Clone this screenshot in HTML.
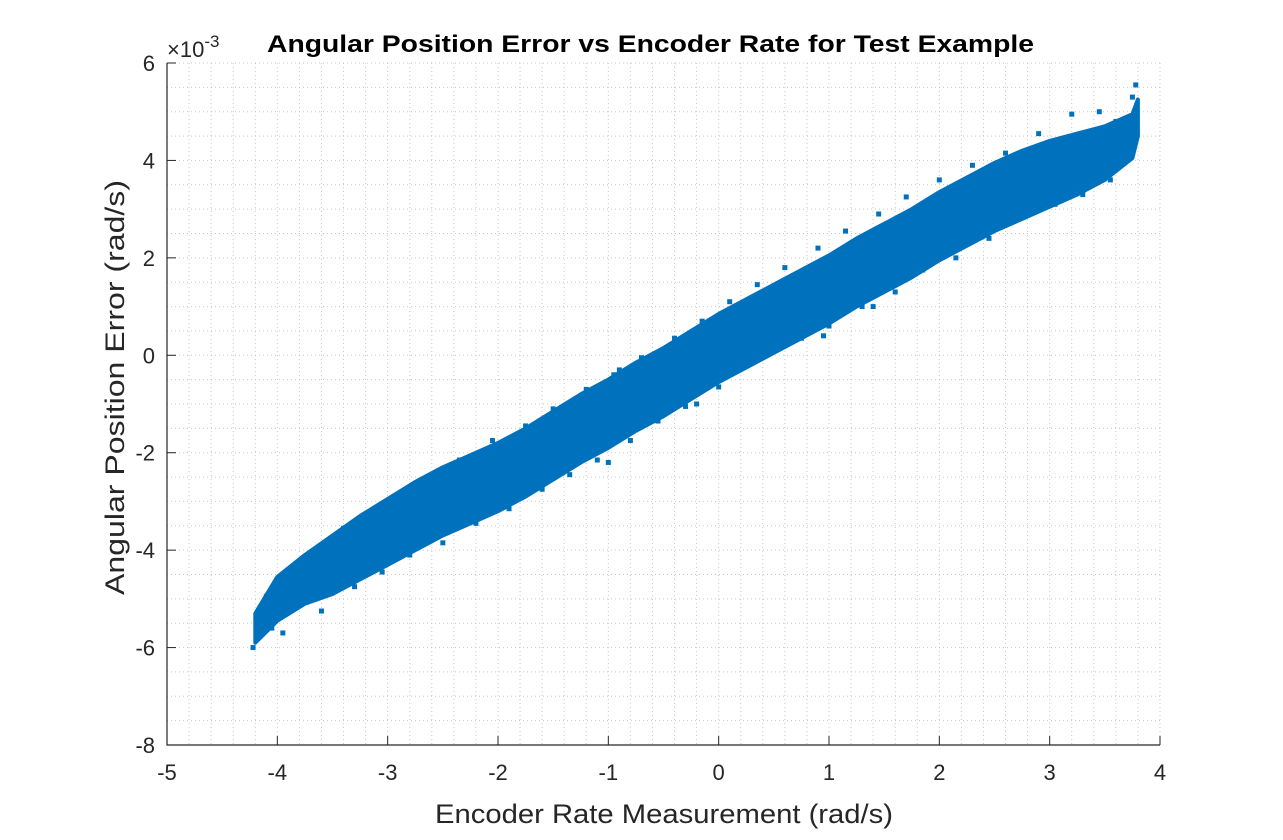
<!DOCTYPE html>
<html><head><meta charset="utf-8">
<style>
body{margin:0;background:#fff;}
svg{display:block;font-family:"Liberation Sans",Arial,sans-serif;}
</style></head>
<body>
<svg id="chart" width="1283" height="840">
<rect width="1283" height="840" fill="#fff"/>
<g id="grid"></g>
<g id="marks"></g>
<g id="axes"></g>
<text x="267" y="52" textLength="767" lengthAdjust="spacingAndGlyphs" font-size="24" font-weight="bold" fill="#000">Angular Position Error vs Encoder Rate for Test Example</text>
<text x="435" y="823" textLength="458" lengthAdjust="spacingAndGlyphs" font-size="27" fill="#262626">Encoder Rate Measurement (rad/s)</text>
<text transform="translate(124,595) rotate(-90)" textLength="415" lengthAdjust="spacingAndGlyphs" font-size="27" fill="#262626">Angular Position Error (rad/s)</text>
<text x="167" y="57" font-size="22" fill="#262626">×10<tspan dy="-10" font-size="17">-3</tspan></text>
</svg>
<script>
const xTicks = [-5,-4,-3,-2,-1,0,1,2,3,4];
const yTicks = [-8,-6,-4,-2,0,2,4,6];
const bandX = [-4.2,-4.0,-3.75,-3.5,-3.25,-3,-2.75,-2.5,-2.25,-2,-1.75,-1.5,-1.25,-1,-0.75,-0.5,-0.25,0,0.25,0.5,0.75,1,1.25,1.5,1.75,2,2.25,2.5,2.75,3,3.25,3.5,3.75,3.8];
const bandLower = [-5.9,-5.45,-5.1,-4.9,-4.6,-4.3,-4.0,-3.7,-3.45,-3.2,-2.9,-2.55,-2.2,-1.9,-1.55,-1.25,-0.9,-0.55,-0.25,0.05,0.35,0.65,1.0,1.3,1.6,1.95,2.25,2.55,2.8,3.05,3.3,3.6,4.05,4.5];
const bandUpper = [-5.3,-4.55,-4.1,-3.7,-3.3,-2.95,-2.6,-2.3,-2.05,-1.8,-1.5,-1.15,-0.8,-0.5,-0.15,0.15,0.5,0.85,1.15,1.45,1.75,2.05,2.4,2.7,3.0,3.35,3.65,3.95,4.2,4.4,4.55,4.7,4.95,5.25];
const ptX = [-4.22,-4.1,-3.95,-3.85,-3.6,-3.55,-3.4,-3.3,-3.1,-3.05,-2.9,-2.8,-2.6,-2.5,-2.35,-2.2,-2.05,-1.9,-1.75,-1.6,-1.5,-1.35,-1.2,-1.1,-0.95,-0.8,-0.7,-0.55,-0.4,-0.3,-0.15,0,0.1,0.2,0.35,0.5,0.6,0.75,0.9,1.0,1.15,1.3,1.45,1.6,1.7,1.85,2.0,2.15,2.3,2.45,2.6,2.75,2.9,3.05,3.2,3.3,3.45,3.55,3.65,3.78,3.3,2.8,2.2,1.4,0.6,-0.2,-1.0,-1.8,-2.6,-3.2,-3.7,-4.05,3.6,3.75,-0.9,0.95,-2.3,1.9,-3.5,2.5];
const ptY = [-6.0,-4.95,-5.7,-4.55,-5.25,-4.0,-3.55,-4.75,-3.25,-4.45,-2.85,-4.1,-2.55,-3.85,-2.15,-3.45,-1.75,-3.15,-1.45,-2.75,-1.1,-2.45,-0.7,-2.15,-0.4,-1.75,-0.05,-1.35,0.35,-1.05,0.7,-0.65,1.1,-0.25,1.45,0.1,1.8,0.35,2.2,0.6,2.55,1.0,2.9,1.3,3.25,1.75,3.6,2.0,3.9,2.4,4.15,2.85,4.55,3.1,4.95,3.3,5.0,3.6,4.1,5.55,4.0,3.1,2.3,1.0,1.0,-1.0,-2.2,-2.5,-3.75,-3.5,-5.0,-5.6,4.8,5.3,-0.3,0.4,-2.2,2.0,-4.3,3.7];

const X0=167, X1=1160, Y0=745, Y1=63;
const xs = v => X0 + (v - (-5)) / 9 * (X1 - X0);
const ys = v => Y0 - (v - (-8)) / 14 * (Y0 - Y1);
const NS = 'http://www.w3.org/2000/svg';
function mk(tag, attrs, parent){const e=document.createElementNS(NS,tag);for(const k in attrs)e.setAttribute(k,attrs[k]);parent.appendChild(e);return e;}
const grid=document.getElementById('grid'), marks=document.getElementById('marks'), axes=document.getElementById('axes');

for(let v=-5; v<=4.001; v+=0.2){
  const l=mk('line',{x1:xs(v),x2:xs(v),y1:Y1,y2:Y0,stroke:'#c8c8c8','stroke-width':1,'stroke-dasharray':'1,3'},grid);
  
  
}
for(let v=-8; v<=6.001; v+=0.5){
  const l=mk('line',{x1:X0,x2:X1,y1:ys(v),y2:ys(v),stroke:'#c8c8c8','stroke-width':1,'stroke-dasharray':'1,3'},grid);
  
  
}

let d='';
bandX.forEach((x,i)=>{d+=(i?'L':'M')+xs(x).toFixed(1)+','+ys(bandUpper[i]).toFixed(1);});
for(let i=bandX.length-1;i>=0;i--){d+='L'+xs(bandX[i]).toFixed(1)+','+ys(bandLower[i]).toFixed(1);}
d+='Z';
const band=mk('path',{d:d,fill:'#0072BD',stroke:'#0072BD','stroke-width':4,'stroke-linejoin':'round'},marks);



ptX.forEach((x,i)=>{
  const r=mk('rect',{x:xs(x)-2.5,y:ys(ptY[i])-2.5,width:5,height:5,fill:'#0072BD'},marks);
  
  
});

const ax=mk('path',{d:`M${X0},${Y1}L${X0},${Y0}L${X1},${Y0}`,fill:'none',stroke:'#262626','stroke-width':1.2},axes);


xTicks.forEach(v=>{
  mk('line',{x1:xs(v),x2:xs(v),y1:Y0,y2:Y0-9,stroke:'#262626','stroke-width':1},axes);
  const t=mk('text',{x:xs(v),y:Y0+35,'text-anchor':'middle','font-size':22,fill:'#262626'},axes);
  t.textContent=v;
  
  
});
yTicks.forEach(v=>{
  mk('line',{x1:X0,x2:X0+9,y1:ys(v),y2:ys(v),stroke:'#262626','stroke-width':1},axes);
  const t=mk('text',{x:X0-12,y:ys(v)+8,'text-anchor':'end','font-size':22,fill:'#262626'},axes);
  t.textContent=v;
  
  
});
</script>
</body></html>
